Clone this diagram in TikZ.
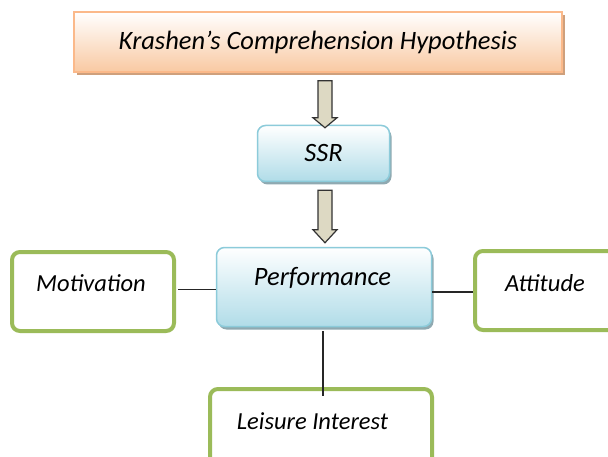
\documentclass[tikz,border=0pt]{standalone}
\usepackage{fontspec}
\setmainfont{Carlito}
\usetikzlibrary{calc,shadows}
\definecolor{peachB}{HTML}{F9C9A2}
\definecolor{peachD}{HTML}{FBB98A}
\definecolor{peachS}{HTML}{CFA07C}
\definecolor{blueB}{HTML}{B0DCE8}
\definecolor{blueD}{HTML}{8CCBDA}
\definecolor{blueS}{HTML}{8FA9B1}
\definecolor{greenD}{HTML}{9BBB59}
\definecolor{arrowF}{HTML}{DDD9C3}
\tikzset{
  x=1pt,y=1pt,
  topbox/.style={draw=peachD, line width=1.5pt, top color=white, bottom color=peachB,
    minimum width=488pt, minimum height=60pt, inner sep=0pt,
    font=\fontsize{26.5}{30}\selectfont\itshape,
    drop shadow={fill=peachS, shadow xshift=3pt, shadow yshift=-3pt, opacity=1}},
  bluebox/.style={draw=blueD, line width=1.5pt, rounded corners=8pt, top color=white, bottom color=blueB,
    inner sep=0pt, font=\fontsize{26.5}{30}\selectfont\itshape,
    drop shadow={fill=blueS, shadow xshift=2pt, shadow yshift=-3pt, opacity=1}},
  greenbox/.style={draw=greenD, line width=4pt, rounded corners=8pt, fill=white,
    minimum width=162pt, minimum height=79pt, inner sep=0pt},
  lbl/.style={font=\fontsize{24.5}{28}\selectfont\itshape, inner sep=0pt},
  link/.style={draw=black!85, line width=1.2pt},
  blockarrow/.style={draw=black!80, line width=1.2pt, fill=arrowF, line join=miter},
}
\begin{document}
\begin{tikzpicture}
\useasboundingbox (0,0) rectangle (608,456);
\clip (0,0) rectangle (608,456);
\fill[white] (0,0) rectangle (608,456);

\node[topbox] (top) at (318,414) {Krashen’s Comprehension Hypothesis};
\node[bluebox, minimum width=132pt, minimum height=56pt] (ssr) at (323.5,302.5) {SSR};
\node[bluebox, minimum width=215pt, minimum height=79pt] (perf) at (324,169) {};
\node[lbl, font=\fontsize{26.5}{30}\selectfont\itshape] (perft) at (322.5,178) {Performance};

\node[greenbox] (mot) at (93,164.5) {};
\node[lbl] (mott) at (91,173) {Motivation};
\node[greenbox] (att) at (556,165.5) {};
\node[lbl] (attt) at (545,173) {Attitude};
\node[greenbox, minimum width=222pt, minimum height=80pt] (lei) at (321,27) {};
\node[lbl] (leit) at (312.5,35) {Leisure Interest};

% block arrows
\coordinate (a1) at ($(top.south)+(7,-8)$);
\coordinate (a1t) at ($(ssr.north)+(1.5,-3)$);
\draw[blockarrow] ($(a1)+(-7,0)$) -- ($(a1)+(7,0)$) |- ($(a1t)+(12,10)$) -- (a1t) -- ($(a1t)+(-12,10)$) -| cycle;
\coordinate (a2) at ($(ssr.south)+(1.5,-8)$);
\coordinate (a2t) at ($(perf.north)+(1,4)$);
\draw[blockarrow] ($(a2)+(-7,0)$) -- ($(a2)+(7,0)$) |- ($(a2t)+(12,13)$) -- (a2t) -- ($(a2t)+(-12,13)$) -| cycle;

% links
\draw[link] (mot.east) ++(2,2) coordinate (m1) -- (m1 -| perf.west);
\draw[link] (perf.east |- 0,164) -- (att.west |- 0,164);
\draw[link] ($(perf.south)+(-1,-4)$) -- ($(lei.north)+(2,-9)$ |- 0,76);
\end{tikzpicture}
\end{document}
